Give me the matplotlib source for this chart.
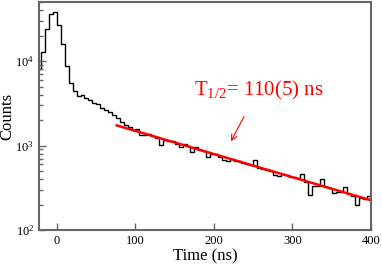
import matplotlib
matplotlib.use("Agg")
import matplotlib.pyplot as plt
import numpy as np

plt.rcParams['font.family'] = 'Liberation Serif'
plt.rcParams['mathtext.fontset'] = 'custom'
plt.rcParams['mathtext.rm'] = 'Liberation Serif'
plt.rcParams['mathtext.it'] = 'Liberation Serif:italic'

# histogram, 5 ns bins starting at -25 ns
bin_start = -25
bin_width = 5
counts = [
    8000, 13000, 24000, 36000, 38000, 26500, 15800, 8700, 5500, 4450,
    3870, 3950, 3700, 3480, 3230, 3100, 2780, 2660, 2470, 2300,
    2100, 1900, 1750, 1640, 1540, 1580, 1330, 1320, 1370, 1300,
    1220, 1010, 1160, 1130, 1120, 1050, 960, 1040, 980, 850,
    950, 880, 870, 730, 790, 800, 740, 680, 660, 690,
    660, 650, 620, 610, 590, 670, 545, 530, 520, 500,
    450, 435, 455, 450, 430, 420, 410, 455, 370, 260,
    330, 335, 400, 325, 315, 275, 285, 285, 320, 265,
    255, 200, 240, 235, 250,
]

# exponential fit
fit_amplitude = 2800
fit_half_life = 110
fit_start, fit_end = 76, 400

edges = bin_start + bin_width * np.arange(len(counts) + 1)
t_fit = np.linspace(fit_start, fit_end, 200)
y_fit = fit_amplitude * 2 ** (-t_fit / fit_half_life)

fig = plt.figure(figsize=(3.82, 2.65), dpi=100)
ax = fig.add_axes([0.102, 0.132, 0.869, 0.860])

ax.stairs(counts, edges, color='black', lw=1.0)
ax.plot(t_fit, y_fit, color='red', lw=1.8)

ax.set_yscale('log')
ax.set_xlim(-23, 400)
ax.set_ylim(100, 50000)
ax.set_xticks([0, 100, 200, 300, 400])

ax.set_xlabel('Time (ns)', fontsize=12, labelpad=1)
ax.set_ylabel('Counts', fontsize=12)
ax.yaxis.set_label_coords(-0.072, 0.5)

ax.tick_params(which='both', direction='in', top=False, right=False,
               labelsize=9, color='#666666')
ax.tick_params(which='major', length=5, width=1)
ax.tick_params(which='minor', length=3, width=1)
ax.tick_params(axis='x', which='minor', bottom=False)
for s in ax.spines.values():
    s.set_color('#666666')
    s.set_linewidth(1.5)

ax.text(175, 3870, r'T$_{\mathrm{1/2}}$= 110(5) ns', color='red',
        fontsize=15, va='baseline', ha='left')
ax.annotate('', xy=(220, 1050), xytext=(240, 2360),
            arrowprops=dict(arrowstyle='->', color='red', lw=0.8))

fig.savefig('out.png', dpi=100)
